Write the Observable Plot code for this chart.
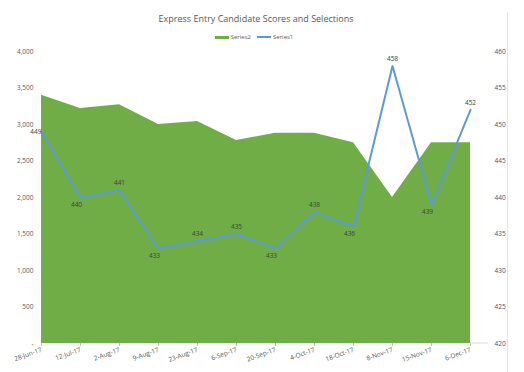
<!DOCTYPE html>
<html><head><meta charset="utf-8">
<script src="https://cdn.jsdelivr.net/npm/d3@7"></script>
<script src="https://cdn.jsdelivr.net/npm/@observablehq/plot@0.6"></script>
<style>
body{margin:0;background:#fff;font-family:"Open Sans",sans-serif;width:524px;height:372px;overflow:hidden;position:relative}
#title{height:30px;box-sizing:border-box;padding-top:12px;padding-right:12px;text-align:center;font-size:9px;line-height:13px;color:#595959}
#legend{height:14px;display:flex;justify-content:center;align-items:center;padding-right:16px;font-size:6px;color:#595959}
#legend .it{display:flex;align-items:center;margin:0 3px}
#legend .sw{width:14px;margin-right:2px}
#frame{position:absolute;left:507px;top:12px;width:1px;height:360px;background:#e6e6e6}
svg{display:block}
</style>
</head><body>
<div id="title">Express Entry Candidate Scores and Selections</div>
<div id="legend"></div>
<div id="chart"></div>
<div id="frame"></div>
<script>
const dates = ["28-Jun-17","12-Jul-17","2-Aug-17","9-Aug-17","23-Aug-17","6-Sep-17","20-Sep-17","4-Oct-17","18-Oct-17","8-Nov-17","15-Nov-17","6-Dec-17"];
const series2 = [3400,3220,3270,3000,3040,2780,2880,2880,2750,2000,2750,2750];
const series1 = [449,440,441,433,434,435,433,438,436,458,439,452];
const leftTicks = [0,500,1000,1500,2000,2500,3000,3500,4000];
const rightTicks = [420,425,430,435,440,445,450,455,460];
const seriesNames = ["Series2","Series1"];
const colors = ["#70AD47","#5B9BD5"];

// secondary axis mapped onto primary (420..460 -> 0..4000)
const sec = d3.scaleLinear().domain([420,460]).range([0,4000]);
const rows = dates.map((d,i)=>({date:d, s2:series2[i], s1:series1[i], s1m:sec(series1[i]), i}));
const isMin = r => r.i>0 && r.i<rows.length-1 && r.s1<rows[r.i-1].s1 && r.s1<rows[r.i+1].s1;
const isLastMin = r => r.i===rows.length-1 && r.s1<rows[r.i-1].s1;

// legend
const lg = document.getElementById("legend");
seriesNames.forEach((n,k)=>{
  const it=document.createElement("div");it.className="it";
  const sw=document.createElement("div");sw.className="sw";
  sw.style.height=k===0?"3px":"1.5px";sw.style.background=colors[k];
  it.appendChild(sw);it.appendChild(document.createTextNode(n));lg.appendChild(it);
});

const plot = Plot.plot({
  width:524, height:328,
  marginLeft:40, marginRight:54, marginTop:7, marginBottom:29,
  style:{fontFamily:"Open Sans, sans-serif", fontSize:"6.5px", background:"#fff"},
  x:{type:"point", domain:dates, padding:0},
  y:{domain:[0,4000]},
  marks:[
    Plot.areaY(rows,{x:"date", y:"s2", fill:colors[0]}),
    Plot.line(rows,{x:"date", y:"s1m", stroke:colors[1], strokeWidth:2}),
    Plot.text(rows.filter(r=>r.i===0),{x:"date", y:"s1m", text:"s1", textAnchor:"end", dx:0, fill:"#404040", fontSize:6.5}),
    Plot.text(rows.filter(r=>isMin(r)),{x:"date", y:"s1m", text:"s1", dx:-4, dy:7, fill:"#404040", fontSize:6.5}),
    Plot.text(rows.filter(r=>r.i>0 && !isMin(r) && !isLastMin(r)),{x:"date", y:"s1m", text:"s1", dy:-7, fill:"#404040", fontSize:6.5}),
    Plot.axisY({anchor:"left", ticks:leftTicks, tickSize:0, tickPadding:7, tickFormat:d=>d===0?"-":d3.format(",")(d), fill:"#595959", label:null}),
    Plot.axisY({anchor:"right", ticks:leftTicks, tickSize:0, tickPadding:24, tickFormat:d=>String(Math.round(sec.invert(d))), textAnchor:"start", fill:"#44546A", label:null}),
    Plot.axisX({tickRotate:-20, tickSize:3, tickPadding:3, stroke:"#bfbfbf", fill:"#595959", label:null})
  ]
});
document.getElementById("chart").appendChild(plot);
// secondary-axis baseline stub
const xs = plot.scale("x"), ys = plot.scale("y");
d3.select(plot).append("line")
  .attr("x1", xs.apply(dates[dates.length-1])).attr("x2", xs.apply(dates[dates.length-1])+18)
  .attr("y1", ys.apply(0)).attr("y2", ys.apply(0))
  .attr("stroke","#d9d9d9");
</script>
</body></html>
